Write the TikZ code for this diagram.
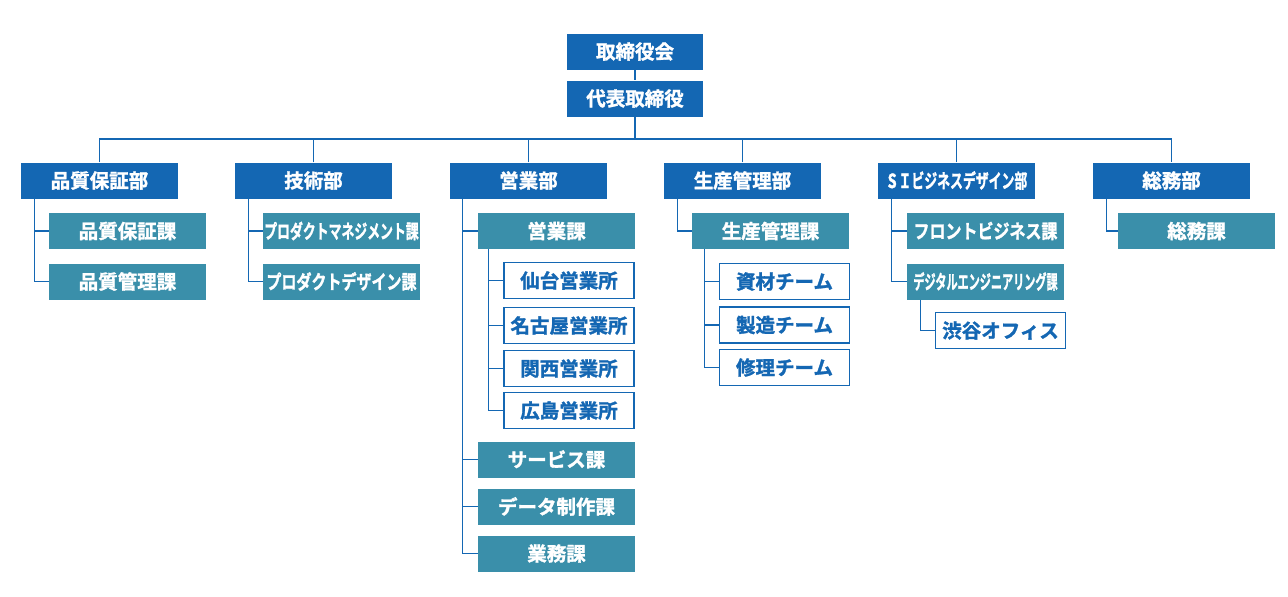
\documentclass[tikz,border=0pt]{standalone}
\usepackage{fontspec}
\setmainfont{Noto Sans CJK JP Bold}[FakeBold=1.5]
\definecolor{dblue}{HTML}{1467B3}
\definecolor{teal2}{HTML}{3A8FAA}
\tikzset{
 bx/.style={minimum height=36pt,inner sep=0pt,font=\fontsize{19.5}{19.5}\selectfont},
 dept/.style={bx,fill=dblue,text=white,minimum width=157pt},
 sec/.style={bx,fill=teal2,text=white,minimum width=157pt},
 off/.style={bx,fill=white,draw=dblue,line width=1.5pt,text=dblue,minimum width=130pt},
 ln/.style={draw=dblue,line width=1.3pt}
}
\newcommand{\sq}[2]{\scalebox{#1}[1]{#2}}
\begin{document}
\begin{tikzpicture}[x=1pt,y=-1pt]
\useasboundingbox (0,0) rectangle (1288,597);
\node[dept,minimum width=136pt] (ceo) at (635,51.5) {取締役会};
\node[dept,minimum width=136pt] (pres) at (635,98.5) {代表取締役};
\node[dept] (d1) at (99.5,180.5) {品質保証部};
\node[dept] (d2) at (313.5,180.5) {技術部};
\node[dept] (d3) at (528.5,180.5) {営業部};
\node[dept] (d4) at (742.5,180.5) {生産管理部};
\node[dept] (d5) at (956.5,180.5) {\sq{0.66}{ＳＩビジネスデザイン部}};
\node[dept] (d6) at (1171.5,180.5) {総務部};
% sections
\node[sec] (s11) at (127.5,231) {品質保証課};
\node[sec] (s12) at (127.5,281.5) {品質管理課};
\node[sec] (s21) at (341.5,231) {\sq{0.66}{プロダクトマネジメント課}};
\node[sec] (s22) at (341.5,281.5) {\sq{0.77}{プロダクトデザイン課}};
\node[sec] (s31) at (556.5,231) {営業課};
\node[sec] (s32) at (556.5,459.5) {サービス課};
\node[sec] (s33) at (556.5,506.5) {データ制作課};
\node[sec] (s34) at (556.5,553.5) {業務課};
\node[sec] (s41) at (770.5,231) {生産管理課};
\node[sec] (s51) at (985.5,231) {\sq{0.82}{フロントビジネス課}};
\node[sec] (s52) at (985.5,281.5) {\sq{0.57}{デジタルエンジニアリング課}};
\node[sec] (s61) at (1196.5,231) {総務課};
% offices
\node[off] (o1) at (569,280.5) {仙台営業所};
\node[off] (o2) at (569,325.5) {名古屋営業所};
\node[off] (o3) at (569,368.5) {関西営業所};
\node[off] (o4) at (569,410.5) {広島営業所};
\node[off] (t1) at (784.5,281.5) {資材チーム};
\node[off] (t2) at (784.5,325) {製造チーム};
\node[off] (t3) at (784.5,367.5) {修理チーム};
\node[off] (sh) at (1000.5,330.5) {渋谷オフィス};
% connectors
\draw[ln] (ceo.south) -- (pres.north);
\draw[ln] (d1.north) |- (pres.south |- 0,139) -| (d6.north);
\draw[ln] (pres.south) -- (pres.south |- 0,139);
\foreach \d in {d2,d3,d4,d5} \draw[ln] (\d.north) -- (\d.north |- 0,139);
\draw[ln] (d1.south west) ++(14,0) coordinate (a1) |- (s12.west);
\draw[ln] (a1 |- s11.west) -- (s11.west);
\draw[ln] (d2.south west) ++(14,0) coordinate (a2) |- (s22.west);
\draw[ln] (a2 |- s21.west) -- (s21.west);
\draw[ln] (d3.south west) ++(13,0) coordinate (a3) |- (s34.west);
\foreach \s in {s31,s32,s33} \draw[ln] (a3 |- \s.west) -- (\s.west);
\draw[ln] (s31.south west) ++(11,0) coordinate (b3) |- (o4.west);
\foreach \s in {o1,o2,o3} \draw[ln] (b3 |- \s.west) -- (\s.west);
\draw[ln] (d4.south west) ++(14,0) |- (s41.west);
\draw[ln] (s41.south west) ++(13,0) coordinate (b4) |- (t3.west);
\foreach \s in {t1,t2} \draw[ln] (b4 |- \s.west) -- (\s.west);
\draw[ln] (d5.south west) ++(14,0) coordinate (a5) |- (s52.west);
\draw[ln] (a5 |- s51.west) -- (s51.west);
\draw[ln] (s52.south west) ++(14,0) |- (sh.west);
\draw[ln] (d6.south west) ++(14,0) |- (s61.west);
\end{tikzpicture}
\end{document}
